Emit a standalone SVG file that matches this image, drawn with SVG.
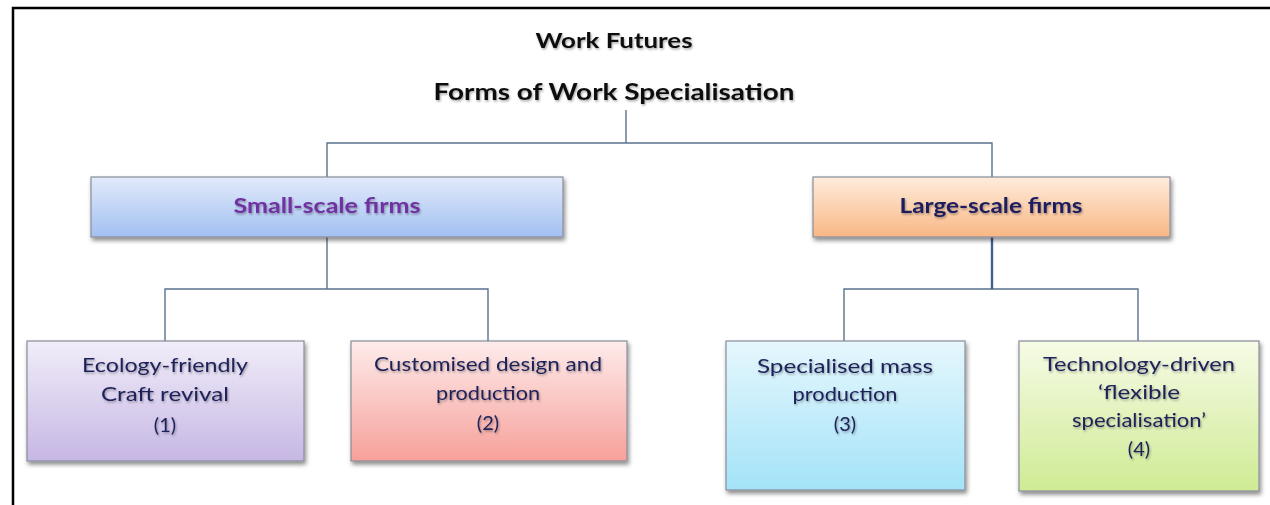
<svg xmlns="http://www.w3.org/2000/svg" width="1270" height="505" viewBox="0 0 1270 505">
<defs>
<linearGradient id="gSmall" x1="0" y1="0" x2="0" y2="1"><stop offset="0" stop-color="#e2eafb"/><stop offset="1" stop-color="#a2c0f1"/></linearGradient>
<linearGradient id="gLarge" x1="0" y1="0" x2="0" y2="1"><stop offset="0" stop-color="#feecdc"/><stop offset="1" stop-color="#f9b784"/></linearGradient>
<linearGradient id="g1" x1="0" y1="0" x2="0" y2="1"><stop offset="0" stop-color="#f1edf9"/><stop offset="1" stop-color="#c6b7e4"/></linearGradient>
<linearGradient id="g2" x1="0" y1="0" x2="0" y2="1"><stop offset="0" stop-color="#fdeceb"/><stop offset="1" stop-color="#f7a09a"/></linearGradient>
<linearGradient id="g3" x1="0" y1="0" x2="0" y2="1"><stop offset="0" stop-color="#e6f7fd"/><stop offset="1" stop-color="#a3e3f8"/></linearGradient>
<linearGradient id="g4" x1="0" y1="0" x2="0" y2="1"><stop offset="0" stop-color="#f6fbe6"/><stop offset="1" stop-color="#cfeb94"/></linearGradient>
<filter id="boxShadow" x="-5%" y="-10%" width="112%" height="125%"><feDropShadow dx="1.5" dy="3" stdDeviation="2" flood-color="#000" flood-opacity="0.45"/></filter>
<filter id="txtShadow" x="-5%" y="-30%" width="110%" height="160%"><feDropShadow dx="1" dy="1.5" stdDeviation="1.2" flood-color="#000" flood-opacity="0.35"/></filter>
</defs>
<style>
.box{stroke:#8a8d9a;stroke-width:1.2;filter:url(#boxShadow)}
.conn{fill:none;stroke:#5a7290;stroke-width:1.4}
.title{font-family:Lato,"Liberation Sans",sans-serif;font-weight:bold;fill:#111;text-anchor:middle;filter:url(#txtShadow)}
.head{font-family:Lato,"Liberation Sans",sans-serif;font-weight:bold;font-size:20px;text-anchor:middle;filter:url(#txtShadow)}
.body{font-family:Lato,"Liberation Sans",sans-serif;font-size:20px;fill:#1e2159;text-anchor:middle;filter:url(#txtShadow)}
</style>
<rect x="0" y="0" width="1270" height="505" fill="#ffffff"/>
<path d="M1270 8 H13 V505" fill="none" stroke="#000" stroke-width="2.5"/>
<g id="title">
<text class="title" x="614" y="48" font-size="21" textLength="157" lengthAdjust="spacingAndGlyphs">Work Futures</text>
<text class="title" x="614" y="100" font-size="22" textLength="361" lengthAdjust="spacingAndGlyphs">Forms of Work Specialisation</text>
</g>
<g id="connectors">
<path class="conn" d="M626 110 V143 M327 177 V143 H992 V177"/>
<path class="conn" d="M327 237 V289 M165 341 V289 H488 V341"/>
<path class="conn" d="M844 341 V289 H1138 V341"/>
<path d="M992 237 V289" fill="none" stroke="#3d5f95" stroke-width="2.4"/>
</g>
<g id="small-scale">
<rect class="box" x="91" y="177" width="472" height="60" fill="url(#gSmall)"/>
<text class="head" x="327" y="213" fill="#7030a0" textLength="187" lengthAdjust="spacingAndGlyphs">Small-scale firms</text>
</g>
<g id="large-scale">
<rect class="box" x="813" y="177" width="357" height="60" fill="url(#gLarge)"/>
<text class="head" x="991" y="213" fill="#1f1f5f" textLength="183" lengthAdjust="spacingAndGlyphs">Large-scale firms</text>
</g>
<g id="node1">
<rect class="box" x="27" y="341" width="277" height="120" fill="url(#g1)"/>
<text class="body" x="165" y="372" textLength="166" lengthAdjust="spacingAndGlyphs">Ecology-friendly</text>
<text class="body" x="165" y="401" textLength="128" lengthAdjust="spacingAndGlyphs">Craft revival</text>
<text class="body" x="165" y="432">(1)</text>
</g>
<g id="node2">
<rect class="box" x="351" y="341" width="276" height="120" fill="url(#g2)"/>
<text class="body" x="488" y="371" textLength="228" lengthAdjust="spacingAndGlyphs">Customised design and</text>
<text class="body" x="488" y="400" textLength="104" lengthAdjust="spacingAndGlyphs">production</text>
<text class="body" x="488" y="430">(2)</text>
</g>
<g id="node3">
<rect class="box" x="726" y="341" width="239" height="149" fill="url(#g3)"/>
<text class="body" x="845" y="373" textLength="176" lengthAdjust="spacingAndGlyphs">Specialised mass</text>
<text class="body" x="845" y="401" textLength="105" lengthAdjust="spacingAndGlyphs">production</text>
<text class="body" x="845" y="431">(3)</text>
</g>
<g id="node4">
<rect class="box" x="1019" y="341" width="240" height="150" fill="url(#g4)"/>
<text class="body" x="1139" y="371" textLength="192" lengthAdjust="spacingAndGlyphs">Technology-driven</text>
<text class="body" x="1139" y="399" textLength="82" lengthAdjust="spacingAndGlyphs">‘flexible</text>
<text class="body" x="1139" y="427" textLength="134" lengthAdjust="spacingAndGlyphs">specialisation’</text>
<text class="body" x="1139" y="456">(4)</text>
</g>
</svg>
